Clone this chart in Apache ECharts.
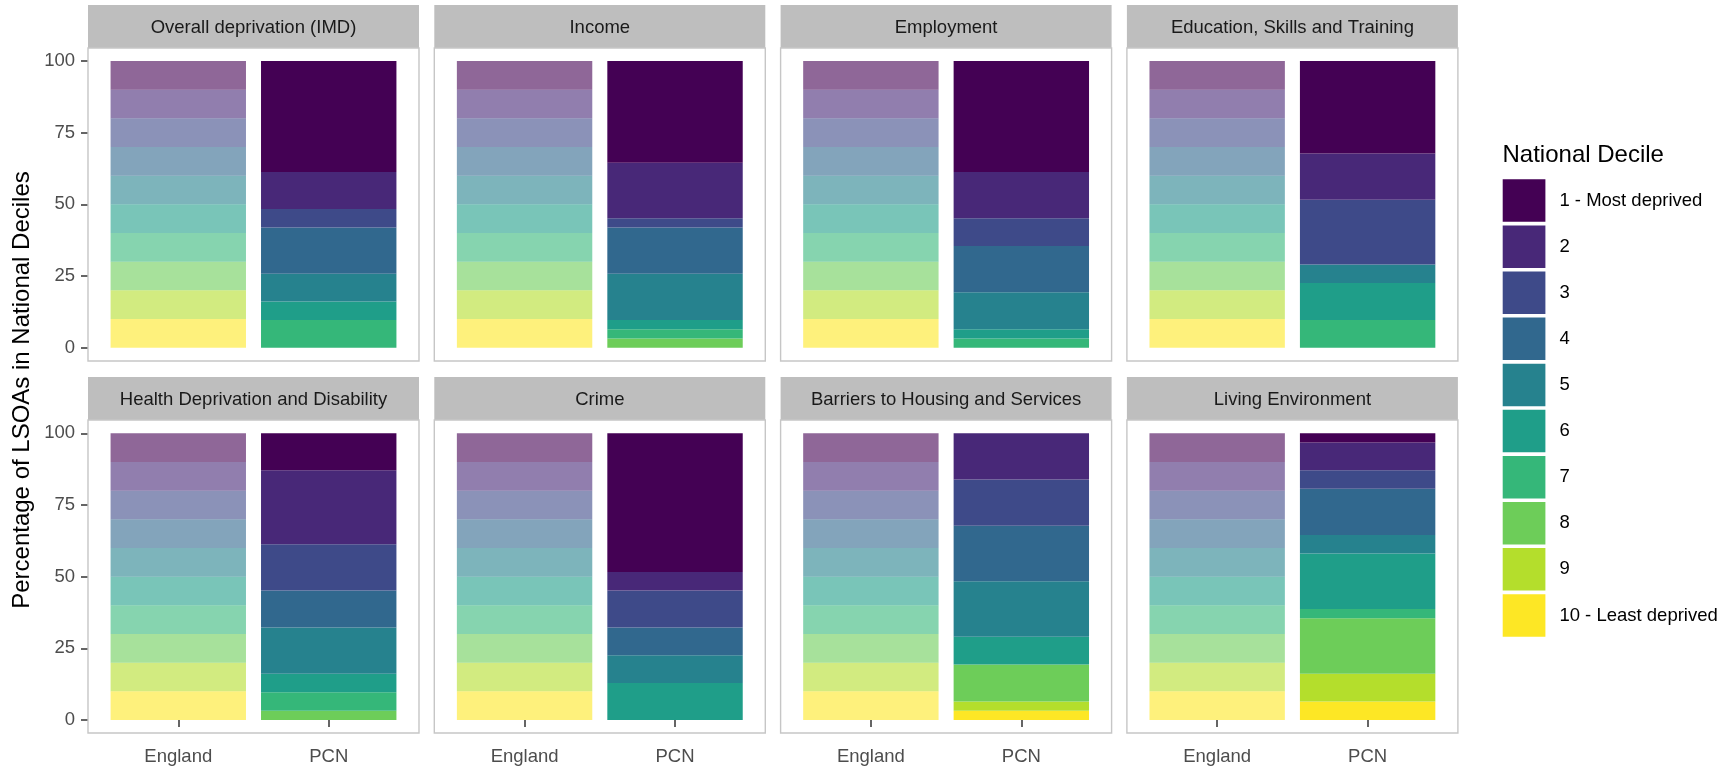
<!DOCTYPE html>
<html><head><meta charset="utf-8">
<script src="https://cdn.jsdelivr.net/npm/echarts@6/dist/echarts.min.js"></script>
<style>html,body{margin:0;padding:0;background:#fff}#c{width:1729px;height:771px}</style>
</head><body><div id="c"></div>
<script>
// ---------- data ----------
const domains = ['Overall deprivation (IMD)', 'Income', 'Employment', 'Education, Skills and Training',
  'Health Deprivation and Disability', 'Crime', 'Barriers to Housing and Services', 'Living Environment'];
const groups = ['England', 'PCN'];
const decileLabels = ['1 - Most deprived', '2', '3', '4', '5', '6', '7', '8', '9', '10 - Least deprived'];
const decileColors = ['#440154', '#482878', '#3E4A89', '#31688E', '#26828E', '#1F9E89', '#35B779', '#6DCD59', '#B4DE2C', '#FDE725'];
const yTicks = [0, 25, 50, 75, 100];

// England: % of LSOAs in each national decile (deciles 1..10)
const england = [10, 10, 10, 10, 10, 10, 10, 10, 10, 10];
// PCN: % of LSOAs in each national decile (deciles 1..10)
const pcnIMD        = [38.71, 12.90, 6.45, 16.13, 9.68, 6.45, 9.68, 0, 0, 0];
const pcnIncome     = [35.48, 19.35, 3.23, 16.13, 16.13, 3.23, 3.23, 3.23, 0, 0];
const pcnEmployment = [38.71, 16.13, 9.68, 16.13, 12.90, 3.23, 3.23, 0, 0, 0];
const pcnEducation  = [32.26, 16.13, 22.58, 0, 6.45, 12.90, 9.68, 0, 0, 0];
const pcnHealth     = [12.90, 25.81, 16.13, 12.90, 16.13, 6.45, 6.45, 3.23, 0, 0];
const pcnCrime      = [48.39, 6.45, 12.90, 9.68, 9.68, 12.90, 0, 0, 0, 0];
const pcnBarriers   = [0, 16.13, 16.13, 19.35, 19.35, 9.68, 0, 12.90, 3.23, 3.23];
const pcnLiving     = [3.23, 9.68, 6.45, 16.13, 6.45, 19.35, 3.23, 19.35, 9.68, 6.45];
const pcnByDomain = [pcnIMD, pcnIncome, pcnEmployment, pcnEducation, pcnHealth, pcnCrime, pcnBarriers, pcnLiving];

// ---------- layout ----------
const FONT = '"Liberation Sans", Arial, sans-serif';
const panelLeft0 = 88, panelPitch = 346.3, panelW = 331;
const stripTop = [5, 377], stripH = 43;
const y100 = [61, 433.3], y0 = [347.7, 720], panelBottom = [361, 733];
const unit = panelW / 2.2;

const grids = [], xAxes = [], yAxes = [], series = [], graphics = [];
for (let p = 0; p < 8; p++) {
  const col = p % 4, row = Math.floor(p / 4);
  const pl = panelLeft0 + col * panelPitch;
  grids.push({ left: pl + 0.1 * unit, width: 2 * unit, top: y100[row], height: y0[row] - y100[row], containLabel: false });
  xAxes.push({
    type: 'category', gridIndex: p, data: groups, offset: panelBottom[row] - y0[row],
    axisLine: { show: false },
    axisTick: { show: row === 1, alignWithLabel: true, length: 7, lineStyle: { color: '#333333', width: 1.5 } },
    axisLabel: { show: row === 1, fontSize: 18.5, color: '#4D4D4D', fontFamily: FONT, margin: 14 }
  });
  yAxes.push({
    type: 'value', gridIndex: p, min: 0, max: 100, interval: 25, offset: 0.1 * unit,
    axisLine: { show: false }, splitLine: { show: false },
    axisTick: { show: col === 0, length: 7, lineStyle: { color: '#333333', width: 1.5 } },
    axisLabel: { show: col === 0, fontSize: 18.5, color: '#4D4D4D', fontFamily: FONT, margin: 13,
      customValues: yTicks }
  });
  const pcn = pcnByDomain[p];
  for (let d = 9; d >= 0; d--) {
    series.push({
      type: 'bar', name: decileLabels[d], stack: 'panel' + p, xAxisIndex: p, yAxisIndex: p,
      barWidth: '90%', silent: true,
      itemStyle: { color: decileColors[d] },
      data: [{ value: england[d], itemStyle: { opacity: 0.6 } }, pcn[d]]
    });
  }
  // strip
  graphics.push({ type: 'rect', shape: { x: pl, y: stripTop[row], width: panelW, height: stripH },
    style: { fill: '#BEBEBE' }, silent: true, z: 10 });
  graphics.push({ type: 'text', x: pl + panelW / 2, y: stripTop[row] + stripH / 2 + 1,
    style: { text: domains[p], fill: '#1A1A1A', font: '18.5px ' + FONT, textAlign: 'center', textVerticalAlign: 'middle' },
    silent: true, z: 11 });
  // panel border
  graphics.push({ type: 'rect', shape: { x: pl, y: stripTop[row] + stripH, width: panelW, height: panelBottom[row] - stripTop[row] - stripH },
    style: { fill: null, stroke: '#C6C6C6', lineWidth: 1.4 }, silent: true, z: 10 });
}
// y axis title
graphics.push({ type: 'text', x: 22, y: 390, rotation: Math.PI / 2,
  style: { text: 'Percentage of LSOAs in National Deciles', fill: '#000000', font: '24px ' + FONT, textAlign: 'center', textVerticalAlign: 'middle' },
  silent: true, z: 11 });
// legend title
graphics.push({ type: 'text', x: 1502.5, y: 155,
  style: { text: 'National Decile', fill: '#000000', font: '24px ' + FONT, textAlign: 'left', textVerticalAlign: 'middle' },
  silent: true, z: 11 });

const chart = echarts.init(document.getElementById('c'), null, { renderer: 'canvas' });
chart.setOption({
  animation: false,
  backgroundColor: '#ffffff',
  grid: grids, xAxis: xAxes, yAxis: yAxes, series: series,
  legend: {
    data: decileLabels, orient: 'vertical', left: 1502.7, top: 179.3, padding: 0,
    icon: 'rect', itemWidth: 42.7, itemHeight: 42.5, itemGap: 3.6, selectedMode: false,
    textStyle: { fontSize: 18.5, color: '#000000', fontFamily: FONT, padding: [0, 0, 0, 9] }
  },
  graphic: { elements: graphics }
});
</script>
</body></html>
